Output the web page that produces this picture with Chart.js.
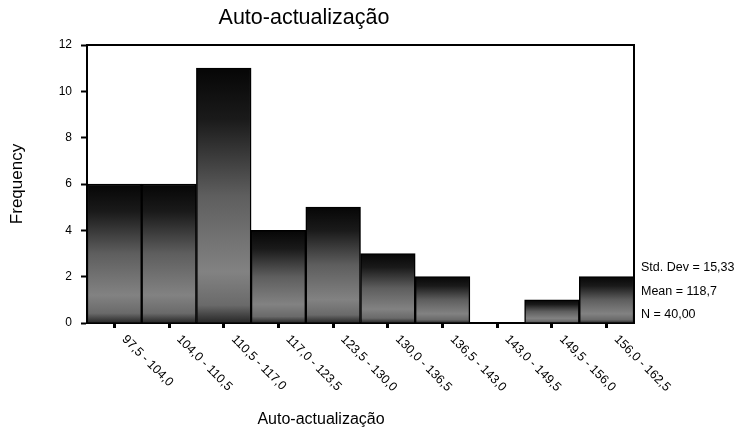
<!DOCTYPE html>
<html>
<head>
<meta charset="utf-8">
<title>Auto-actualização</title>
<script src="https://cdn.jsdelivr.net/npm/chart.js"></script>
<style>
    body { margin: 0; background: #fff; }
    #grafico { display: block; }
</style>
</head>
<body>
<canvas id="grafico" width="737" height="435"></canvas>
<script>
// Dados do histograma
const categorias = ['97,5 - 104,0', '104,0 - 110,5', '110,5 - 117,0', '117,0 - 123,5', '123,5 - 130,0',
    '130,0 - 136,5', '136,5 - 143,0', '143,0 - 149,5', '149,5 - 156,0', '156,0 - 162,5'];
const frequencias = [6, 6, 11, 4, 5, 3, 2, 0, 1, 2];
const ticksY = [0, 2, 4, 6, 8, 10, 12];
const estatisticas = ['Std. Dev = 15,33', 'Mean = 118,7', 'N = 40,00'];
const titulo = 'Auto-actualização';
const tituloX = 'Auto-actualização';
const tituloY = 'Frequency';

const fonte = '"Liberation Sans", Arial, sans-serif';

// Degrade de cada barra: escuro em cima, cinza no meio
function corBarra(context) {
    var chart = context.chart
    if (!chart.chartArea) return '#555'
    var y = chart.scales.y
    var topo = y.getPixelForValue(context.raw)
    var base = y.getPixelForValue(0)
    if (base - topo < 1) return '#555'
    var g = chart.ctx.createLinearGradient(0, topo, 0, base)
    g.addColorStop(0, '#060606')
    g.addColorStop(0.2, '#1a1a1a')
    g.addColorStop(0.5, '#5e5e5e')
    g.addColorStop(0.8, '#828282')
    g.addColorStop(0.93, '#6a6a6a')
    g.addColorStop(1, '#262626')
    return g
}

const pluginTextos = {
    id: 'textos',
    afterDraw(chart) {
        var c = chart.ctx
        var a = chart.chartArea
        var x = chart.scales.x
        c.save()
        // moldura de cima e da direita
        c.strokeStyle = '#000'
        c.lineWidth = 2
        c.beginPath()
        c.moveTo(a.left, a.top)
        c.lineTo(a.right, a.top)
        c.lineTo(a.right, a.bottom)
        c.stroke()

        c.fillStyle = '#000'
        c.font = '21.5px ' + fonte
        c.textAlign = 'center'
        c.textBaseline = 'middle'
        c.fillText(titulo, 304, 18)

        // rotulos do eixo x, inclinados para baixo
        c.font = '12.5px ' + fonte
        c.textAlign = 'left'
        c.textBaseline = 'top'
        categorias.forEach(function(cat, i) {
            var px = x.getPixelForValue(i)
            c.save()
            c.translate(px + 14, 333)
            c.rotate(Math.PI / 4)
            c.fillText(cat, 0, 0)
            c.restore()
        })

        c.font = '16px ' + fonte
        c.textAlign = 'center'
        c.textBaseline = 'middle'
        c.fillText(tituloX, 321, 420)

        c.font = '12.5px ' + fonte
        c.textAlign = 'left'
        estatisticas.forEach(function(s, i) {
            c.fillText(s, 641, 268 + i * 23.5)
        })
        c.restore()
    }
}

new Chart(document.getElementById('grafico'), {
    type: 'bar',
    data: {
        labels: categorias,
        datasets: [{
            data: frequencias,
            backgroundColor: corBarra,
            borderColor: '#000',
            borderWidth: 1.5,
            barPercentage: 1,
            categoryPercentage: 1
        }]
    },
    options: {
        responsive: false,
        animation: false,
        layout: { padding: { top: 45, right: 103, left: 0, bottom: 0 } },
        plugins: {
            legend: { display: false },
            tooltip: { enabled: false }
        },
        scales: {
            x: {
                ticks: { display: false },
                grid: { offset: false, drawOnChartArea: false, tickLength: 5, tickWidth: 3, color: '#000' },
                border: { color: '#000', width: 2 },
                afterFit: function(scale) { scale.height = 112 }
            },
            y: {
                min: 0,
                max: 12,
                afterBuildTicks: function(scale) {
                    scale.ticks = ticksY.map(function(v) { return { value: v } })
                },
                ticks: { color: '#000', padding: 9, font: { family: fonte, size: 12 } },
                grid: { drawOnChartArea: false, tickLength: 6, tickWidth: 2, color: '#000' },
                border: { color: '#000', width: 2 },
                title: { display: true, text: tituloY, color: '#000', font: { family: fonte, size: 17 }, padding: { top: 7 } },
                afterFit: function(scale) { scale.width = 87 }
            }
        }
    },
    plugins: [pluginTextos]
});
</script>
</body>
</html>
